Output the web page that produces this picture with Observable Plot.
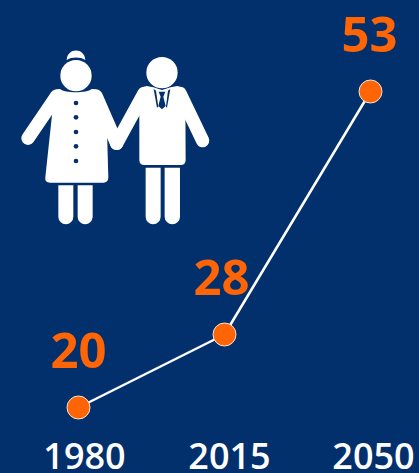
<!DOCTYPE html>
<html>
<head>
<meta charset="utf-8">
<style>
html,body{margin:0;padding:0;background:#02306d;overflow:hidden}
svg{display:block}
</style>
<script src="https://cdn.jsdelivr.net/npm/d3@7"></script>
<script src="https://cdn.jsdelivr.net/npm/@observablehq/plot@0.6"></script>
</head>
<body>
<script>
const years = ["1980", "2015", "2050"];
const values = [20, 28, 53];
const labelOffsetX = [0, -3, -1];
const tickOffsetX = [6, 5, 3];

const bg = "#02306d", orange = "#ff6405";
const table = years.map((year, i) => ({year, value: values[i], lx: labelOffsetX[i], tx: tickOffsetX[i]}));

function icon() {
  const ns = "http://www.w3.org/2000/svg";
  const g = document.createElementNS(ns, "g");
  g.setAttribute("transform", "translate(10,40) scale(0.3333)");
  g.innerHTML = `
  <g fill="#fff" stroke="none">
    <path d="M170 60 C172 22 224 22 226 60 C212 50 184 50 170 60Z"/>
    <circle cx="198" cy="107" r="47"/>
    <path d="M150 147 C165 160 230 160 245 147 C258 147 266 152 272 165 L290 235 L295 412 Q295 428 280 428 L120 428 Q104 428 106 412 L125 235 L132 160 Q138 147 150 147Z"/>
    <path d="M140 168 L54 295" stroke="#fff" stroke-width="40" stroke-linecap="round" fill="none"/>
    <path d="M258 168 L320 310" stroke="#fff" stroke-width="40" stroke-linecap="round" fill="none"/>
    <path d="M145 436 H190 V530 A22.5 22.5 0 0 1 145 530Z"/>
    <path d="M203 436 H248 V530 A22.5 22.5 0 0 1 203 530Z"/>
    <circle cx="456" cy="98" r="47"/>
    <path d="M410 138 L430 142 L456 150 L482 142 L502 138 Q518 140 526 158 L527 360 Q527 375 512 375 L403 375 Q388 375 388 360 L388 158 Q394 140 410 138Z"/>
    <path d="M402 160 L320 310" stroke="#fff" stroke-width="40" stroke-linecap="round" fill="none"/>
    <path d="M510 160 L578 302" stroke="#fff" stroke-width="40" stroke-linecap="round" fill="none"/>
    <path d="M407 383 H452 V530 A22.5 22.5 0 0 1 407 530Z"/>
    <path d="M464 383 H510 V530 A22.5 22.5 0 0 1 464 530Z"/>
  </g>
  <g fill="${bg}" stroke="none">
    <circle cx="198" cy="189" r="7"/>
    <circle cx="198" cy="232" r="7"/>
    <circle cx="198" cy="276" r="7"/>
    <circle cx="198" cy="319" r="7"/>
    <circle cx="198" cy="363" r="7"/>
    <path d="M431 147 L438 152 L445 200 L441 203Z"/>
    <path d="M481 147 L474 152 L468 200 L471 203Z"/>
    <path d="M446 155 H466 L460 170 L467 198 L456 208 L445 198 L452 170Z"/>
  </g>`;
  return g;
}

const chart = Plot.plot({
  width: 419,
  height: 473,
  margin: 0,
  style: {background: bg, fontFamily: "'Open Sans', sans-serif", overflow: "visible"},
  x: {type: "point", domain: years, range: [78, 370], padding: 0, axis: null},
  y: {type: "linear", domain: [20, 28, 53], range: [407, 334, 91], axis: null},
  marks: [
    icon,
    Plot.line(table, {x: "year", y: "value", stroke: "#fff", strokeWidth: 2.5}),
    Plot.dot(table, {x: "year", y: "value", r: 11.5, fill: orange, stroke: "#f2e6dc", strokeWidth: 1}),
    ...table.map(d => Plot.text([d], {
      x: "year", y: "value", text: d => String(d.value),
      dx: d.lx, dy: -55.5,
      fill: orange, fontSize: 49, fontWeight: 700, textAnchor: "middle", lineAnchor: "middle"
    })),
    ...table.map(d => Plot.text([d], {
      x: "year", text: "year", frameAnchor: "bottom", dy: -5,
      dx: d.tx, fill: "#fff", fontSize: 36, fontWeight: 600, textAnchor: "middle", lineAnchor: "bottom"
    }))
  ]
});
document.body.appendChild(chart);
</script>
</body>
</html>
